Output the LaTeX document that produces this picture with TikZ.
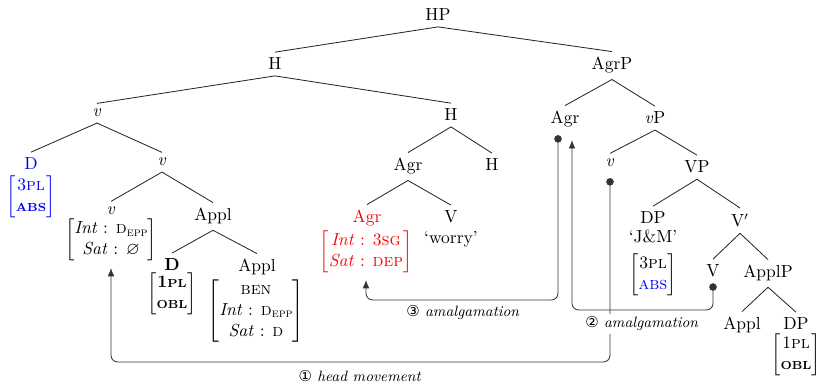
\documentclass[tikz,border=0pt]{standalone}
\usepackage{amssymb}
\usepackage{fontspec}
\newfontfamily\circfont{DejaVu Sans}
\usetikzlibrary{arrows.meta,positioning}
\newcommand\bsc[1]{{\bfseries\fontsize{7}{9}\selectfont\MakeUppercase{#1}}}
\newcommand\Depp{\textsc{d}\raisebox{-.35ex}{\fontsize{7.5}{9}\selectfont\textsc{epp}}}
\newcommand\fbr[1]{$\left[\begin{tabular}{@{}c@{}}#1\end{tabular}\right]$}
\begin{document}
\begin{tikzpicture}[x=0.6pt,y=-0.6pt,
  every node/.style={font=\fontsize{10.5}{12.6}\selectfont},
  lbl/.style={anchor=base},
  fs/.style={inner sep=0pt},
  lab/.style={font=\fontsize{9}{11}\selectfont,inner sep=2pt},
  edge/.style={black!85,line width=0.5pt},
  mv/.style={black!80,line width=0.5pt,rounded corners=4pt,
    {Circle[length=4.5pt]}-{Latex[length=5pt,width=4pt]},shorten >=4pt}]
\useasboundingbox (0,0) rectangle (820,384);
% upper part
\node[lbl] (hp) at (438,21) {HP};
\node[lbl] (h1) at (275,70) {H};
\node[lbl] (agrp) at (612,70) {AgrP};
% left branch
\node[lbl] (v1) at (97,117) {\textit{v}};
\node[lbl,text=blue] (d1) at (31,170) {D};
\node[fs,text=blue] (d1f) at (31,197) {\fbr{3\textsc{pl}\\\bsc{abs}}};
\node[lbl] (v2) at (162,166) {\textit{v}};
\node[lbl] (v3) at (111,215) {\textit{v}};
\node[fs] (v3f) at (111,240) {\fbr{\textit{Int} : \Depp\\\textit{Sat} : $\varnothing$}};
\node[lbl] (appl1) at (213,221) {Appl};
\node[lbl] (d2) at (172,271) {\textbf{D}};
\node[fs] (d2f) at (172,294) {\fbr{\textbf{1}\bsc{pl}\\\bsc{obl}}};
\node[lbl] (appl2) at (257,272) {Appl};
\node[fs] (appl2f) at (256,311) {\fbr{\textsc{ben}\\\textit{Int} : \Depp\\\textit{Sat} : \textsc{d}}};
% middle branch
\node[lbl] (h2) at (451,121) {H};
\node[lbl] (agr1) at (408,171) {Agr};
\node[lbl] (h3) at (492,171) {H};
\node[lbl,text=red] (agr3) at (367,223) {Agr};
\node[fs,text=red] (agrf) at (366,252) {\fbr{\textit{Int} : 3\textsc{sg}\\\textit{Sat} : \textsc{dep}}};
\node[lbl] (vb1) at (451,223) {V};
\node[lbl,inner sep=1pt] (worry) at (451,244) {`worry'};
% right branch
\node[lbl] (agr2) at (565,124) {Agr};
\node[lbl] (vp) at (655,124) {\textit{v}P};
\node[lbl] (v4) at (610,167) {\textit{v}};
\node[lbl] (vpp) at (697,173) {VP};
\node[lbl] (dp1) at (653,224) {DP};
\node[lbl,inner sep=1pt] (jm) at (653,243) {`J\&M'};
\node[fs] (dp1f) at (653,275) {\fbr{3\textsc{pl}\\\textcolor{blue}{\textsc{abs}}}};
\node[lbl] (vbar) at (740,227) {V$'$};
\node[lbl] (v5) at (713,277) {V};
\node[lbl] (applp) at (768,278) {ApplP};
\node[lbl] (appl3) at (742,330) {Appl};
\node[lbl] (dp2) at (796,330) {DP};
\node[fs] (dp2f) at (796,355) {\fbr{1\textsc{pl}\\\bsc{obl}}};
% branches
\foreach \a/\b in {hp/h1,hp/agrp,h1/v1,h1/h2,v1/d1,v1/v2,v2/v3,v2/appl1,appl1/d2,appl1/appl2,
  h2/agr1,h2/h3,agr1/agr3,agr1/vb1,agrp/agr2,agrp/vp,vp/v4,vp/vpp,vpp/dp1,vpp/vbar,
  vbar/v5,vbar/applp,applp/appl3,applp/dp2}
  \draw[edge] (\a.south) -- (\b.north);
% movement paths
\coordinate (c1) at (360,362);
\coordinate (c2) at (640,310);
\coordinate (c3) at (463,300);
\draw[mv] ([yshift=-3pt]v4.south) |- (c1) -| (v3f.south);
\draw[mv] (v5.south) |- (c2) -| ([xshift=4.2pt]agr2.south);
\draw[mv] ([xshift=-4.2pt,yshift=-1pt]agr2.south) |- (c3) -| (agrf.south);
\node[lab] (l1) at (360,376) {{\circfont ①} \textit{head movement}};
\node[lab,fill=white] (l2) at (642,324) {{\circfont ②} \textit{amalgamation}};
\node[lab] (l3) at (463,313) {{\circfont ③} \textit{amalgamation}};
\end{tikzpicture}
\end{document}
